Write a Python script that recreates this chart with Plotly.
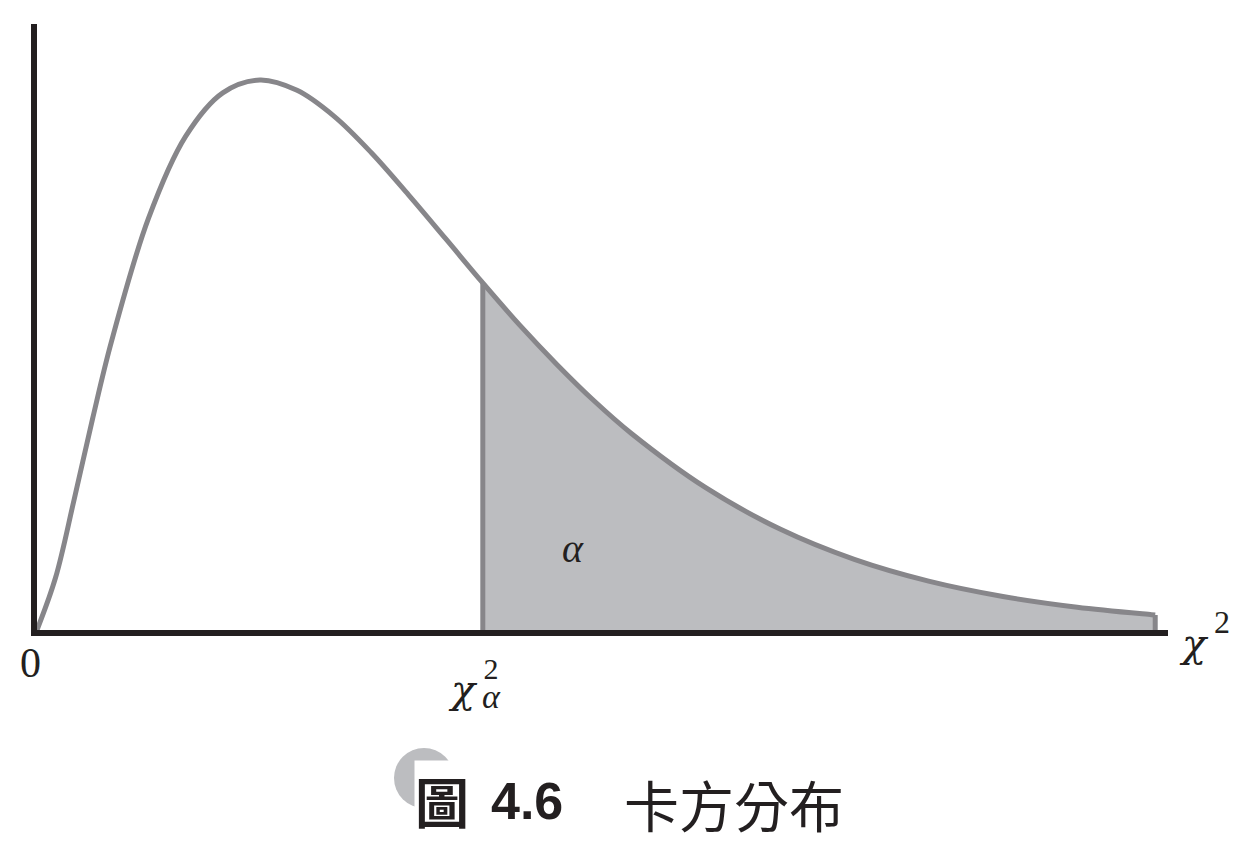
import plotly.graph_objects as go

# Curve points (chi-square density shape)
curve_x = [0, 0.25, 0.5, 0.75, 1, 1.5, 2, 2.5, 3, 3.5, 4, 4.5, 5, 5.5, 6,
           6.5, 7, 7.5, 8, 9, 10, 11, 12, 13, 14, 15, 15.05]
curve_y = [0, 0.0147, 0.0366, 0.0594, 0.0807, 0.1154, 0.1384, 0.1506, 0.1542,
           0.1513, 0.1440, 0.1338, 0.1220, 0.1097, 0.0973, 0.0854, 0.0744,
           0.0642, 0.0551, 0.0399, 0.0283, 0.0198, 0.0137, 0.0094, 0.0064,
           0.0043, 0.0042]
crit_x = 6.0
tail_end_x = 15.05

labels = {"zero": "0", "alpha": "α", "chi": "χ", "sup": "2"}
caption_fig = "圖"
caption_num = "4.6"
caption_text = "卡方分布"

CURVE = "#87868a"
FILL = "#bcbdc0"
AXIS = "#231f20"

OFF = 8  # page body margin
W, H = 1254 - OFF, 850 - OFF
ML, MR, MT, MB = 29, 86, 16, 220
PW, PH = W - ML - MR, H - MT - MB
X0_SCREEN = ML + OFF            # screen px of x=0
Y0_SCREEN = H - MB + OFF        # screen px of y=0


def px(xs):
    return (xs - X0_SCREEN) / PW


def py(ys):
    return (Y0_SCREEN - ys) / PH


tail_x = [x for x in curve_x if x >= crit_x]
tail_y = [y for x, y in zip(curve_x, curve_y) if x >= crit_x]
crit_y = tail_y[0]
end_y = tail_y[-1]

fig = go.Figure()
fig.add_trace(go.Scatter(x=tail_x, y=tail_y, mode="lines", fill="tozeroy",
                         fillcolor=FILL, line=dict(width=0, shape="spline"),
                         hoverinfo="skip", showlegend=False))
fig.add_trace(go.Scatter(x=[crit_x, crit_x, None, tail_end_x, tail_end_x],
                         y=[0, crit_y, None, 0, end_y], mode="lines",
                         line=dict(color=CURVE, width=5), showlegend=False))
fig.add_trace(go.Scatter(x=curve_x, y=curve_y, mode="lines",
                         line=dict(color=CURVE, width=5, shape="spline"),
                         showlegend=False))

serif = "Liberation Serif"
chi_font = "DejaVu Serif"


def A(xs, ys, text, family, size, **kw):
    d = dict(x=px(xs), y=py(ys), xref="paper", yref="paper", text=text,
             xanchor="center", yanchor="middle", borderpad=0,
             font=dict(family=family, size=size, color=AXIS), showarrow=False)
    d.update(kw)
    return d


supsub = ('<span style="font-size:30px">' + labels["sup"] + '</span><br>'
          '<span style="font-size:34px"><i>' + labels["alpha"] + '</i></span>')

ann = [
    A(30, 663, labels["zero"], serif, 42),
    A(573, 548, "<i>" + labels["alpha"] + "</i>", serif, 40),
    A(1194, 643, "<i>" + labels["chi"] + "</i>", chi_font, 40),
    A(1222, 622, labels["sup"], serif, 32),
    A(463, 689, "<i>" + labels["chi"] + "</i>", chi_font, 40),
    A(491, 683, supsub, serif, 22),
    A(442, 800, "<b>" + caption_fig + "</b>", "Noto Sans CJK TC", 54,
      bgcolor="white"),
    A(527, 801, "<b>" + caption_num + "</b>", "Liberation Sans", 52),
    A(734, 803, caption_text, "Noto Sans CJK TC", 55),
]

fig.update_layout(
    width=W, height=H,
    margin=dict(l=ML, r=MR, t=MT, b=MB, pad=0),
    paper_bgcolor="white", plot_bgcolor="white",
    xaxis=dict(range=[0, PW / 74.3], showgrid=False, zeroline=False,
               showticklabels=False, ticks="", showline=True,
               linecolor=AXIS, linewidth=6),
    yaxis=dict(range=[0, 0.1542 / 550 * PH], showgrid=False, zeroline=False,
               showticklabels=False, ticks="", showline=True,
               linecolor=AXIS, linewidth=6),
    annotations=ann,
    shapes=[dict(type="circle", xref="paper", yref="paper",
                 xsizemode="pixel", ysizemode="pixel",
                 xanchor=px(424), yanchor=py(778),
                 x0=-30, x1=30, y0=-30, y1=30,
                 fillcolor=FILL, line=dict(width=0), layer="below")],
)

fig.write_html("out.html")
